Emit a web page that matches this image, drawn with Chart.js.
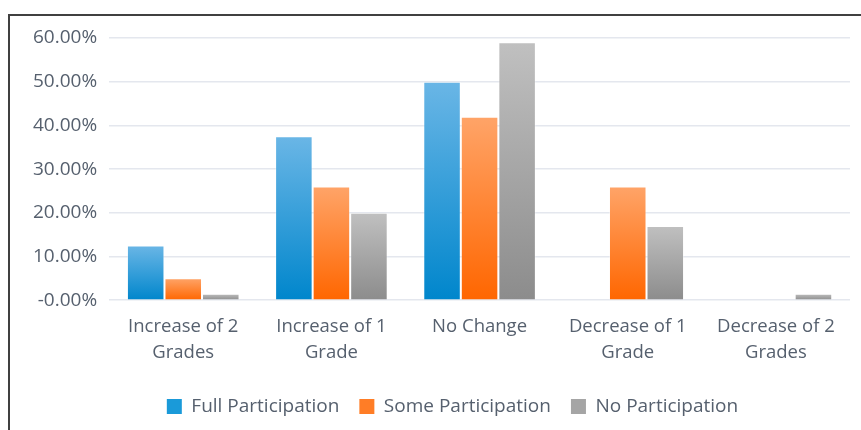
<!DOCTYPE html>
<html>
<head>
<meta charset="utf-8">
<script src="https://cdn.jsdelivr.net/npm/chart.js@4"></script>
<style>
  html, body { margin: 0; padding: 0; background: #fff; }
  #frame {
    position: absolute; left: 8px; top: 14px; width: 880px; height: 430px;
    border-top: 2px solid #404040; border-left: 2px solid #404040;
  }
  #wrap { position: absolute; left: 0; top: 0; width: 861px; height: 430px; }
</style>
</head>
<body>
<div id="frame"></div>
<div id="wrap"><canvas id="chart"></canvas></div>
<script>
const categories = [
  ['Increase of 2', 'Grades'],
  ['Increase of 1', 'Grade'],
  'No Change',
  ['Decrease of 1', 'Grade'],
  ['Decrease of 2', 'Grades']
];
const fullParticipation = [12.5, 37.5, 50, 0, 0];
const someParticipation = [5, 26, 42, 26, 0];
const noParticipation = [1.5, 20, 59, 17, 1.5];

const textColor = '#56606e';

// per-bar vertical gradient, light at top, dark at the base
function barGradient(top, bottom) {
  return (ctx) => {
    const chart = ctx.chart;
    const y = chart.scales.y;
    if (!chart.chartArea || !y || ctx.type !== 'data') return bottom;
    const v = ctx.raw;
    const y0 = y.getPixelForValue(0);
    const y1 = y.getPixelForValue(v);
    if (!isFinite(y1) || y0 - y1 < 1) return bottom;
    const g = chart.ctx.createLinearGradient(0, y1, 0, y0);
    g.addColorStop(0, top);
    g.addColorStop(1, bottom);
    return g;
  };
}

function makeSet(label, data, top, bottom, legendColor) {
  return {
    label: label,
    data: data,
    backgroundColor: barGradient(top, bottom),
    borderColor: 'rgba(255,255,255,0.35)',
    borderWidth: 1,
    legendColor: legendColor
  };
}

// legend sits a little right of the canvas centre in the original
const shiftLegend = {
  id: 'shiftLegend',
  afterLayout(chart) {
    chart.legend.left += 17;
    chart.legend.right += 17;
  }
};

new Chart('chart', {
  type: 'bar',
  data: {
    labels: categories,
    datasets: [
      makeSet('Full Participation', fullParticipation, '#6ab6e6', '#0086cc', '#1a9ad9'),
      makeSet('Some Participation', someParticipation, '#ffa468', '#ff6600', '#ff7d26'),
      makeSet('No Participation', noParticipation, '#c0c0c0', '#8c8c8c', '#a5a5a5')
    ]
  },
  plugins: [shiftLegend],
  options: {
    responsive: true,
    maintainAspectRatio: false,
    animation: false,
    layout: { padding: { top: 38, left: 21, right: 11, bottom: 4 } },
    datasets: {
      bar: { categoryPercentage: 0.76, barPercentage: 1.0 }
    },
    scales: {
      x: {
        grid: { display: false },
        border: { display: false },
        afterFit(scale) { scale.height += 5; },
        ticks: {
          color: textColor,
          font: { family: 'Open Sans', size: 18.5, lineHeight: 1.4 },
          maxRotation: 0,
          padding: 6
        }
      },
      y: {
        min: 0,
        max: 60,
        grid: { color: '#e4e7ee', lineWidth: 1.5, drawTicks: false },
        border: { display: false },
        ticks: {
          stepSize: 10,
          color: textColor,
          padding: 12,
          font: { family: 'Open Sans', size: 19 },
          callback: (v) => v === 0 ? '-0.00%' : v.toFixed(2) + '%'
        }
      }
    },
    plugins: {
      tooltip: { enabled: false },
      legend: {
        position: 'bottom',
        labels: {
          color: textColor,
          font: { family: 'Open Sans', size: 19 },
          boxWidth: 15,
          boxHeight: 15,
          padding: 20,
          generateLabels(chart) {
            return chart.data.datasets.map((ds, i) => ({
              text: ds.label,
              fillStyle: ds.legendColor,
              strokeStyle: ds.legendColor,
              lineWidth: 0,
              fontColor: textColor,
              datasetIndex: i,
              hidden: false
            }));
          }
        }
      }
    }
  }
});
</script>
</body>
</html>
